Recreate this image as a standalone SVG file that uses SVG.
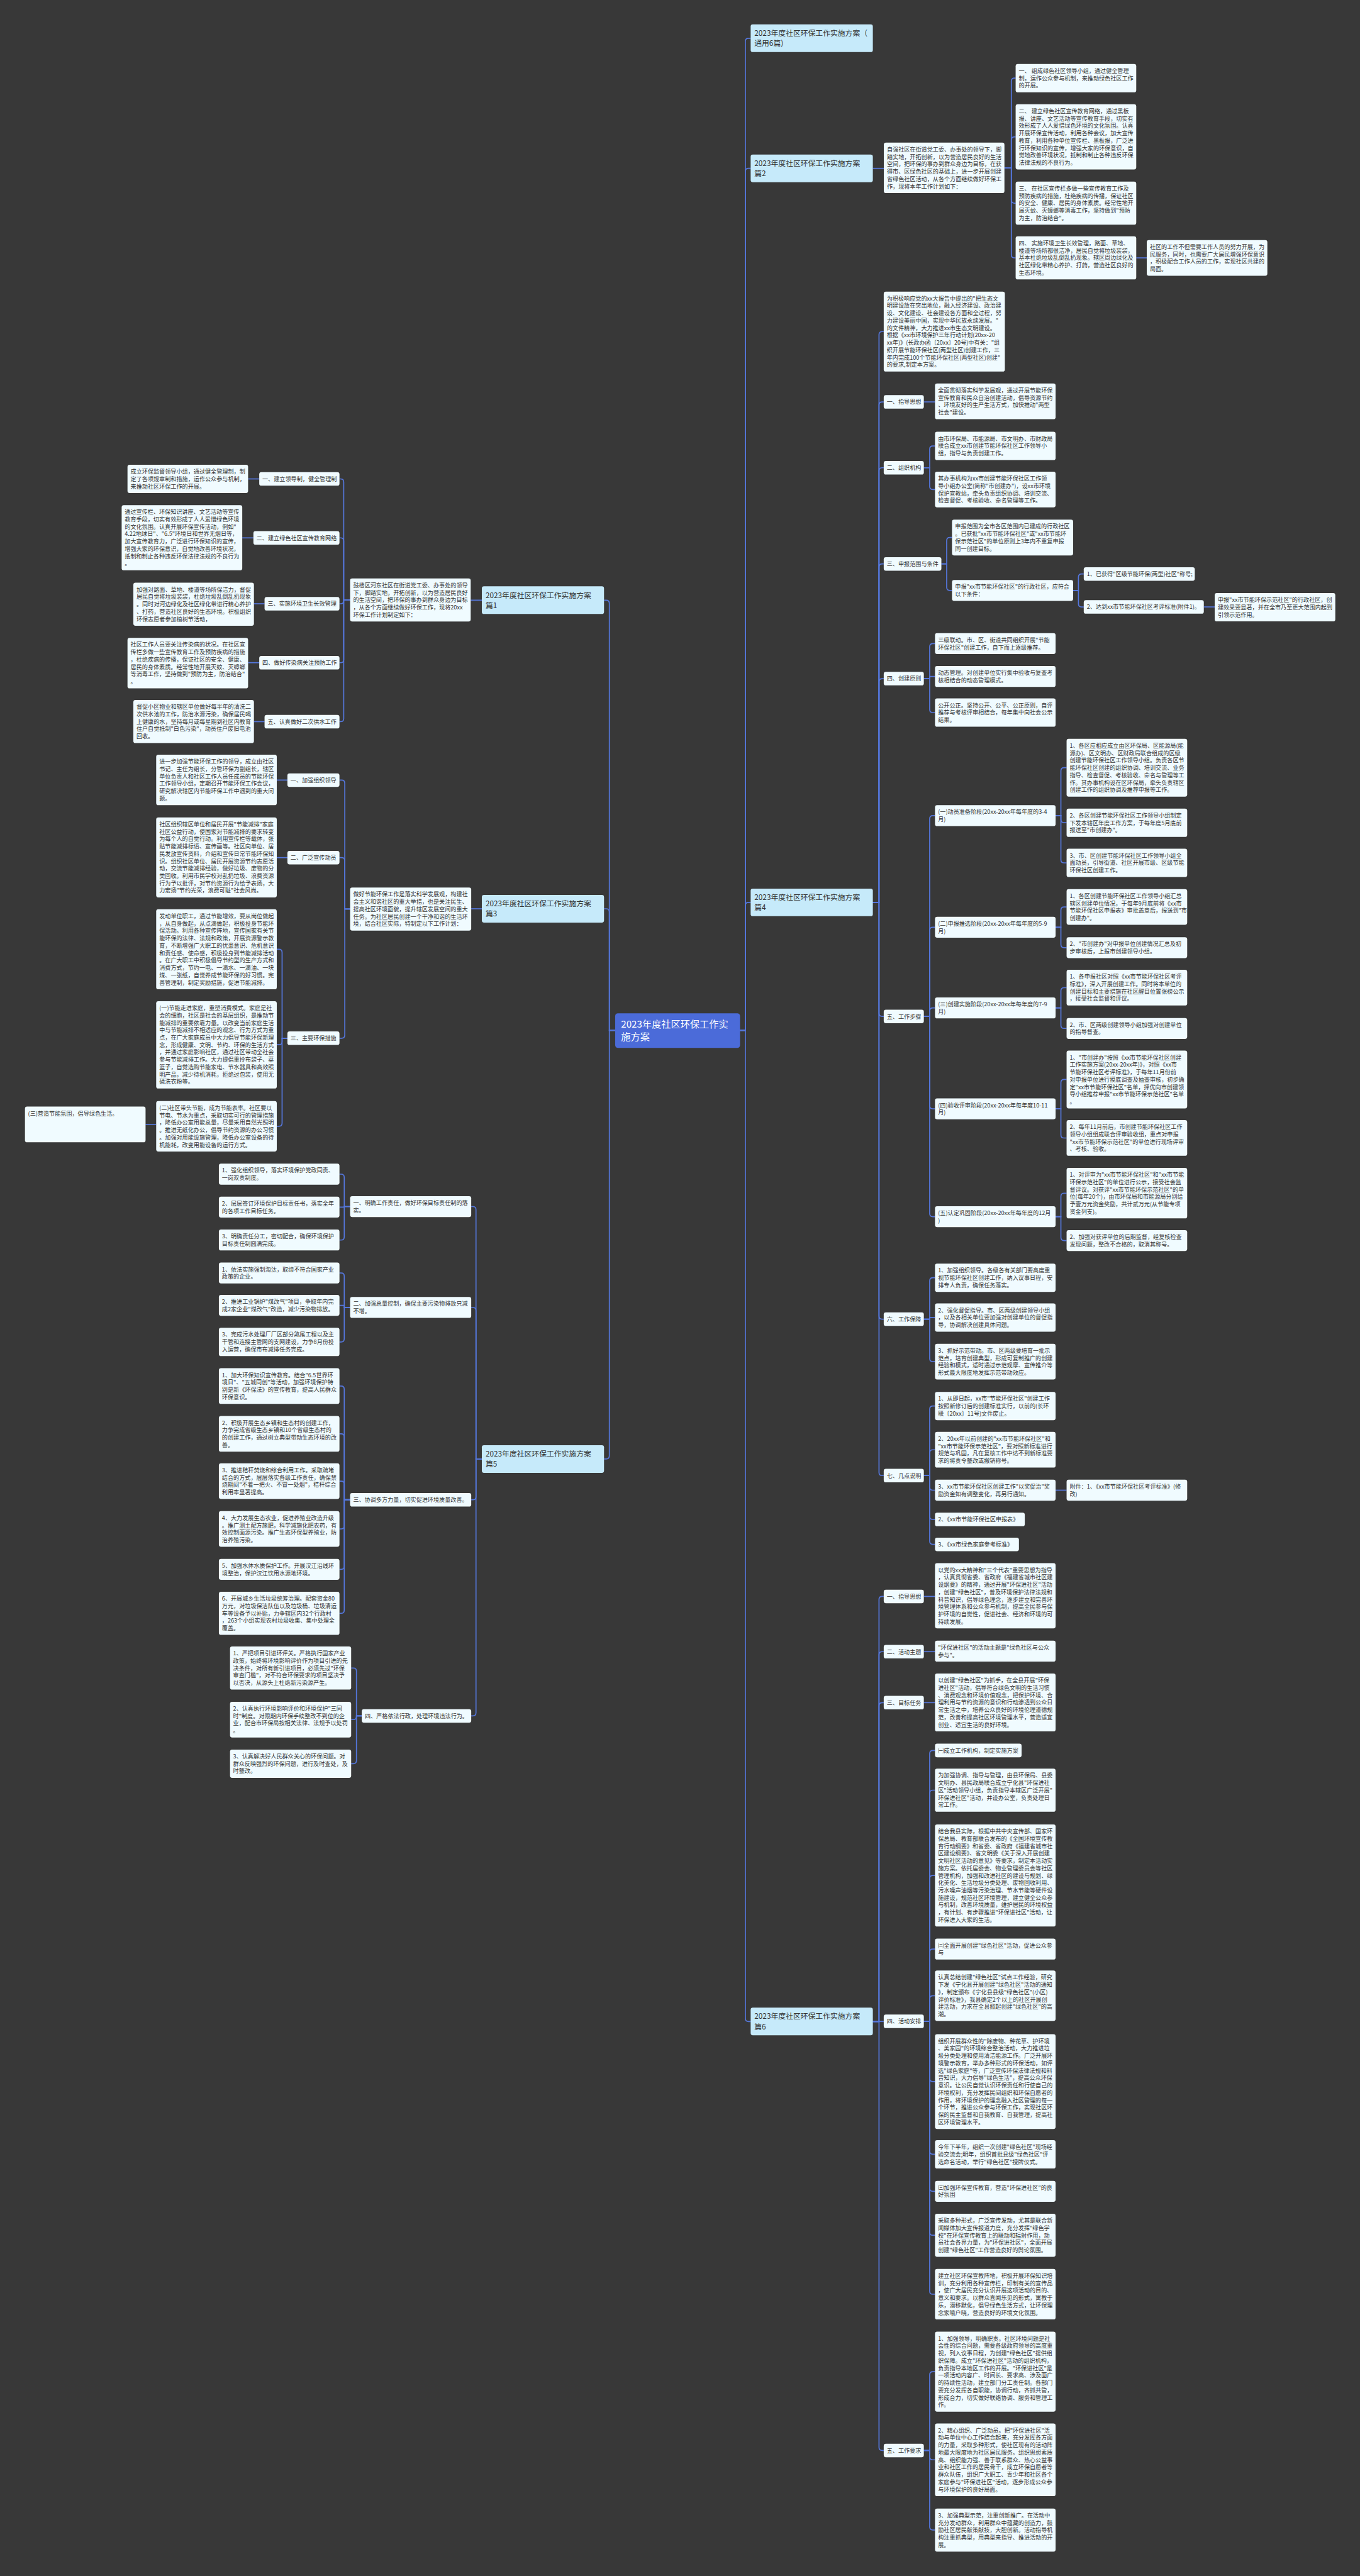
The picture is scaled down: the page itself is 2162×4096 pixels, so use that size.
<svg xmlns="http://www.w3.org/2000/svg" width="2162" height="4096" viewBox="0 0 2162 4096">
<style>
.n{fill:#f0fbff}
.h{fill:#c6eafa}
.k{fill:#4b6bd9}
text{font-family:"Noto Sans CJK SC","Noto Sans",sans-serif;font-size:10.8px;fill:#333}
.t1{font-size:14px;fill:#333}
.tc{font-size:18px;fill:#ffffff}
.e path{fill:none;stroke:#5577dd;stroke-width:2}
</style>
<rect x="0" y="0" width="2162" height="4096" fill="#383838"/>
<g transform="scale(0.844531)">
<g class="e" id="connectors">
<path d="M1393 1940H1403V78Q1403 72 1409 72H1413"/>
<path d="M1393 1940H1403V323Q1403 317 1409 317H1413"/>
<path d="M1393 1940H1403V1705Q1403 1699 1409 1699H1413"/>
<path d="M1393 1940H1403V3800Q1403 3806 1409 3806H1413"/>
<path d="M1158 1940H1147V1136Q1147 1130 1141 1130H1137"/>
<path d="M1158 1940H1147V1717Q1147 1711 1141 1711H1137"/>
<path d="M1158 1940H1147V2741Q1147 2747 1141 2747H1137"/>
<path d="M1643 317H1663.7"/>
<path d="M1890.7 316H1903.7V153Q1903.7 147 1909.7 147H1911.8"/>
<path d="M1890.7 316H1903.7V263.7Q1903.7 257.7 1909.7 257.7H1911.8"/>
<path d="M1890.7 316H1903.7V376.5Q1903.7 382.5 1909.7 382.5H1911.8"/>
<path d="M1890.7 316H1903.7V479.5Q1903.7 485.5 1909.7 485.5H1911.8"/>
<path d="M2138.8 485.5H2158.6"/>
<path d="M1643 1699H1654.6V630.3Q1654.6 624.3 1660.6 624.3H1663.5"/>
<path d="M1643 1699H1654.6V762.7Q1654.6 756.7 1660.6 756.7H1663.5"/>
<path d="M1643 1699H1654.6V886.7Q1654.6 880.7 1660.6 880.7H1663.5"/>
<path d="M1643 1699H1654.6V1067.7Q1654.6 1061.7 1660.6 1061.7H1663.5"/>
<path d="M1643 1699H1654.6V1283.7Q1654.6 1277.7 1660.6 1277.7H1663.5"/>
<path d="M1643 1699H1654.6V1907.7Q1654.6 1913.7 1660.6 1913.7H1663.5"/>
<path d="M1643 1699H1654.6V2477.7Q1654.6 2483.7 1660.6 2483.7H1663.5"/>
<path d="M1643 1699H1654.6V2772.2Q1654.6 2778.2 1660.6 2778.2H1663.5"/>
<path d="M1739 756.7H1760"/>
<path d="M1739 880.7H1750V845.6Q1750 839.6 1756 839.6H1760"/>
<path d="M1739 880.7H1750V915.6Q1750 921.6 1756 921.6H1760"/>
<path d="M1772 1061.7H1782V1018Q1782 1012 1788 1012H1792"/>
<path d="M1772 1061.7H1782V1105.7Q1782 1111.7 1788 1111.7H1792"/>
<path d="M2020 1111.7H2030V1086.7Q2030 1080.7 2036 1080.7H2040"/>
<path d="M2020 1111.7H2030V1136.7Q2030 1142.7 2036 1142.7H2040"/>
<path d="M2266 1142.7H2286.5"/>
<path d="M1739 1277.7H1750V1217.7Q1750 1211.7 1756 1211.7H1760"/>
<path d="M1739 1277.7H1750V1273.7H1760"/>
<path d="M1739 1277.7H1750V1335.6Q1750 1341.6 1756 1341.6H1760"/>
<path d="M1739 1913.7H1750V1541.7Q1750 1535.7 1756 1535.7H1760"/>
<path d="M1739 1913.7H1750V1751.7Q1750 1745.7 1756 1745.7H1760"/>
<path d="M1739 1913.7H1750V1903.7Q1750 1897.7 1756 1897.7H1760"/>
<path d="M1739 1913.7H1750V2081.7Q1750 2087.7 1756 2087.7H1760"/>
<path d="M1739 1913.7H1750V2284.7Q1750 2290.7 1756 2290.7H1760"/>
<path d="M1987 1535.7H1997V1451.4Q1997 1445.4 2003 1445.4H2007.7"/>
<path d="M1987 1535.7H1997V1543Q1997 1549 2003 1549H2007.7"/>
<path d="M1987 1535.7H1997V1618.6Q1997 1624.6 2003 1624.6H2007.7"/>
<path d="M1987 1745.7H1997V1713.6Q1997 1707.6 2003 1707.6H2007.7"/>
<path d="M1987 1745.7H1997V1778.2Q1997 1784.2 2003 1784.2H2007.7"/>
<path d="M1987 1897.7H1997V1865.6Q1997 1859.6 2003 1859.6H2007.7"/>
<path d="M1987 1897.7H1997V1930.3Q1997 1936.3 2003 1936.3H2007.7"/>
<path d="M1987 2087.7H1997V2038.4Q1997 2032.4 2003 2032.4H2007.7"/>
<path d="M1987 2087.7H1997V2136.6Q1997 2142.6 2003 2142.6H2007.7"/>
<path d="M1987 2290.7H1997V2252.5Q1997 2246.5 2003 2246.5H2007.7"/>
<path d="M1987 2290.7H1997V2329.7Q1997 2335.7 2003 2335.7H2007.7"/>
<path d="M1739 2483.7H1750V2411.6Q1750 2405.6 1756 2405.6H1760"/>
<path d="M1739 2483.7H1750V2480.6H1760"/>
<path d="M1739 2483.7H1750V2557.6Q1750 2563.6 1756 2563.6H1760"/>
<path d="M1739 2778.2H1750V2653.2Q1750 2647.2 1756 2647.2H1760"/>
<path d="M1739 2778.2H1750V2735.6Q1750 2729.6 1756 2729.6H1760"/>
<path d="M1739 2778.2H1750V2799.7Q1750 2805.7 1756 2805.7H1760"/>
<path d="M1739 2778.2H1750V2854.7Q1750 2860.7 1756 2860.7H1760"/>
<path d="M1739 2778.2H1750V2901.7Q1750 2907.7 1756 2907.7H1760"/>
<path d="M1987 2805.7H2007.7"/>
<path d="M1643 3806H1654.6V3011.7Q1654.6 3005.7 1660.6 3005.7H1663.5"/>
<path d="M1643 3806H1654.6V3115.7Q1654.6 3109.7 1660.6 3109.7H1663.5"/>
<path d="M1643 3806H1654.6V3211.7Q1654.6 3205.7 1660.6 3205.7H1663.5"/>
<path d="M1643 3806H1663.5"/>
<path d="M1643 3806H1654.6V4607.7Q1654.6 4613.7 1660.6 4613.7H1663.5"/>
<path d="M1739 3005.7H1760"/>
<path d="M1739 3109.7H1760"/>
<path d="M1739 3205.7H1760"/>
<path d="M1739 3805.7H1750V3301.7Q1750 3295.7 1756 3295.7H1760"/>
<path d="M1739 3805.7H1750V3376.5Q1750 3370.5 1756 3370.5H1760"/>
<path d="M1739 3805.7H1750V3537Q1750 3531 1756 3531H1760"/>
<path d="M1739 3805.7H1750V3675.7Q1750 3669.7 1756 3669.7H1760"/>
<path d="M1739 3805.7H1750V3763.5Q1750 3757.5 1756 3757.5H1760"/>
<path d="M1739 3805.7H1750V3913.2Q1750 3919.2 1756 3919.2H1760"/>
<path d="M1739 3805.7H1750V4050Q1750 4056 1756 4056H1760"/>
<path d="M1739 3805.7H1750V4119.7Q1750 4125.7 1756 4125.7H1760"/>
<path d="M1739 3805.7H1750V4202.5Q1750 4208.5 1756 4208.5H1760"/>
<path d="M1739 3805.7H1750V4313.5Q1750 4319.5 1756 4319.5H1760"/>
<path d="M1739 4613.7H1750V4471.3Q1750 4465.3 1756 4465.3H1760"/>
<path d="M1739 4613.7H1750V4625.3Q1750 4631.3 1756 4631.3H1760"/>
<path d="M1739 4613.7H1750V4757.5Q1750 4763.5 1756 4763.5H1760"/>
<path d="M907 1130H886"/>
<path d="M659 1129.5H647V907.7Q647 901.7 641 901.7H639"/>
<path d="M659 1129.5H647V1018.7Q647 1012.7 641 1012.7H639"/>
<path d="M659 1129.5H647V1130.7Q647 1136.7 641 1136.7H639"/>
<path d="M659 1129.5H647V1241.7Q647 1247.7 641 1247.7H639"/>
<path d="M659 1129.5H647V1352.7Q647 1358.7 641 1358.7H639"/>
<path d="M488 901.7H467"/>
<path d="M477 1012.7H456"/>
<path d="M498 1136.7H478"/>
<path d="M488 1247.7H467"/>
<path d="M498 1358.7H478"/>
<path d="M907 1711H887"/>
<path d="M659 1711.5H649V1474.7Q649 1468.7 643 1468.7H639"/>
<path d="M659 1711.5H649V1620.7Q649 1614.7 643 1614.7H639"/>
<path d="M659 1711.5H649V1948.7Q649 1954.7 643 1954.7H639"/>
<path d="M541 1468.7H521"/>
<path d="M541 1614.7H521"/>
<path d="M541 1954.7H531V1793.3Q531 1787.3 525 1787.3H521"/>
<path d="M541 1954.7H531V1961Q531 1967 525 1967H521"/>
<path d="M541 1954.7H531V2114.5Q531 2120.5 525 2120.5H521"/>
<path d="M294 2117H274"/>
<path d="M907 2747H896V2277.7Q896 2271.7 890 2271.7H887"/>
<path d="M907 2747H896V2467.7Q896 2461.7 890 2461.7H887"/>
<path d="M907 2747H896V2817.7Q896 2823.7 890 2823.7H887"/>
<path d="M907 2747H896V3224.7Q896 3230.7 890 3230.7H887"/>
<path d="M659 2271.7H648V2216.7Q648 2210.7 642 2210.7H639"/>
<path d="M659 2271.7H648V2272.7H639"/>
<path d="M659 2271.7H648V2328.7Q648 2334.7 642 2334.7H639"/>
<path d="M659 2461.7H648V2402.7Q648 2396.7 642 2396.7H639"/>
<path d="M659 2461.7H648V2457.7H639"/>
<path d="M659 2461.7H648V2520.6Q648 2526.6 642 2526.6H639"/>
<path d="M659 2823.7H648V2615.6Q648 2609.6 642 2609.6H639"/>
<path d="M659 2823.7H648V2705.6Q648 2699.6 642 2699.6H639"/>
<path d="M659 2823.7H648V2794.6Q648 2788.6 642 2788.6H639"/>
<path d="M659 2823.7H648V2872.6Q648 2878.6 642 2878.6H639"/>
<path d="M659 2823.7H648V2948.7Q648 2954.7 642 2954.7H639"/>
<path d="M659 2823.7H648V3031.5Q648 3037.5 642 3037.5H639"/>
<path d="M681 3230.7H671V3146.5Q671 3140.5 665 3140.5H661"/>
<path d="M681 3230.7H671V3231.6Q671 3237.6 665 3237.6H661"/>
<path d="M681 3230.7H671V3314.6Q671 3320.6 665 3320.6H661"/>
</g>

<g id="center"><rect class="k" x="1158" y="1908" width="235" height="65" rx="5"/><text class="tc" x="1169" y="1935"><tspan>2023年度社区环保工作实</tspan><tspan x="1169" dy="24">施方案</tspan></text></g>

<g id="r1"><rect class="h" x="1413" y="46" width="230" height="52" rx="4"/><text class="t1" x="1420" y="67.5"><tspan>2023年度社区环保工作实施方案（</tspan><tspan x="1420" dy="19">通用6篇)</tspan></text></g>
<g id="r2"><rect class="h" x="1413" y="291" width="230" height="52" rx="4"/><text class="t1" x="1420" y="312.5"><tspan>2023年度社区环保工作实施方案</tspan><tspan x="1420" dy="19">篇2</tspan></text></g>
<g id="r4"><rect class="h" x="1413" y="1673" width="230" height="52" rx="4"/><text class="t1" x="1420" y="1694.5"><tspan>2023年度社区环保工作实施方案</tspan><tspan x="1420" dy="19">篇4</tspan></text></g>
<g id="r6"><rect class="h" x="1413" y="3780" width="230" height="52" rx="4"/><text class="t1" x="1420" y="3801.5"><tspan>2023年度社区环保工作实施方案</tspan><tspan x="1420" dy="19">篇6</tspan></text></g>
<g id="l1"><rect class="h" x="907" y="1104" width="230" height="52" rx="4"/><text class="t1" x="914" y="1125.5"><tspan>2023年度社区环保工作实施方案</tspan><tspan x="914" dy="19">篇1</tspan></text></g>
<g id="l3"><rect class="h" x="907" y="1685" width="230" height="52" rx="4"/><text class="t1" x="914" y="1706.5"><tspan>2023年度社区环保工作实施方案</tspan><tspan x="914" dy="19">篇3</tspan></text></g>
<g id="l5"><rect class="h" x="907" y="2721" width="230" height="52" rx="4"/><text class="t1" x="914" y="2742.5"><tspan>2023年度社区环保工作实施方案</tspan><tspan x="914" dy="19">篇5</tspan></text></g>

<g id="b0"><rect class="n" x="1663.7" y="268.6" width="227" height="95" rx="4"/><text x="1669.5" y="285.3"><tspan>自强社区在街道党工委、办事处的领导下，脚</tspan><tspan x="1669.5" dy="13.9">踏实地，开拓创新，以为营造居民良好的生活</tspan><tspan x="1669.5" dy="13.9">空间，把环保的事办到群众身边为目标，在获</tspan><tspan x="1669.5" dy="13.9">得市、区绿色社区的基础上，进一步开展创建</tspan><tspan x="1669.5" dy="13.9">省绿色社区活动，从各个方面继续做好环保工</tspan><tspan x="1669.5" dy="13.9">作，现将本年工作计划如下：</tspan></text></g>
<g id="b1"><rect class="n" x="1911.8" y="120.5" width="227" height="53.3" rx="4"/><text x="1917.6" y="137.2"><tspan>一、 组成绿色社区领导小组，通过健全管理</tspan><tspan x="1917.6" dy="13.9">制，运作公众参与机制，来推动绿色社区工作</tspan><tspan x="1917.6" dy="13.9">的开展。</tspan></text></g>
<g id="b2"><rect class="n" x="1911.8" y="196.3" width="227" height="122.8" rx="4"/><text x="1917.6" y="213"><tspan>二、 建立绿色社区宣传教育网络，通过黑板</tspan><tspan x="1917.6" dy="13.9">报、讲座、文艺活动等宣传教育手段，切实有</tspan><tspan x="1917.6" dy="13.9">效形成了人人爱惜绿色环境的文化氛围。认真</tspan><tspan x="1917.6" dy="13.9">开展环保宣传活动，利用各种会议，加大宣传</tspan><tspan x="1917.6" dy="13.9">教育，利用各种单位宣传栏、黑板报，广泛进</tspan><tspan x="1917.6" dy="13.9">行环保知识的宣传，增强大家的环保意识，自</tspan><tspan x="1917.6" dy="13.9">觉地改善环境状况，抵制和制止各种违反环保</tspan><tspan x="1917.6" dy="13.9">法律法规的不良行为。</tspan></text></g>
<g id="b3"><rect class="n" x="1911.8" y="342" width="227" height="81.1" rx="4"/><text x="1917.6" y="358.7"><tspan>三、 在社区宣传栏多做一些宣传教育工作及</tspan><tspan x="1917.6" dy="13.9">预防疾病的措施，杜绝疾病的传播，保证社区</tspan><tspan x="1917.6" dy="13.9">的安全、健康、居民的身体素质。经常性地开</tspan><tspan x="1917.6" dy="13.9">展灭蚊、灭蟑螂等消毒工作，坚持做到"预防</tspan><tspan x="1917.6" dy="13.9">为主，防治结合"。</tspan></text></g>
<g id="b4"><rect class="n" x="1911.8" y="445" width="227" height="81.1" rx="4"/><text x="1917.6" y="461.7"><tspan>四、 实施环境卫生长效管理，路面、草地、</tspan><tspan x="1917.6" dy="13.9">楼道等场所都很洁净，居民自觉将垃圾装袋，</tspan><tspan x="1917.6" dy="13.9">基本杜绝垃圾乱倒乱扔现象。辖区周边绿化及</tspan><tspan x="1917.6" dy="13.9">社区绿化带精心养护、打药，营造社区良好的</tspan><tspan x="1917.6" dy="13.9">生态环境。</tspan></text></g>
<g id="b4a"><rect class="n" x="2158.6" y="452" width="227" height="67.2" rx="4"/><text x="2164.4" y="468.7"><tspan>社区的工作不但需要工作人员的努力开展，为</tspan><tspan x="2164.4" dy="13.9">民服务，同时，也需要广大居民增强环保意识</tspan><tspan x="2164.4" dy="13.9">，积极配合工作人员的工作，实现社区共建的</tspan><tspan x="2164.4" dy="13.9">局面。</tspan></text></g>

<g id="d0"><rect class="n" x="1663.5" y="549" width="228" height="150.6" rx="4"/><text x="1669.3" y="565.7"><tspan>为积极响应党的xx大报告中提出的"把生态文</tspan><tspan x="1669.3" dy="13.9">明建设放在突出地位，融入经济建设、政治建</tspan><tspan x="1669.3" dy="13.9">设、文化建设、社会建设各方面和全过程，努</tspan><tspan x="1669.3" dy="13.9">力建设美丽中国，实现中华民族永续发展。"</tspan><tspan x="1669.3" dy="13.9">的文件精神，大力推进xx市生态文明建设。</tspan><tspan x="1669.3" dy="13.9">根据《xx市环境保护三年行动计划(20xx-20</tspan><tspan x="1669.3" dy="13.9">xx年)》(长政办函〔20xx〕20号)中有关："组</tspan><tspan x="1669.3" dy="13.9">织开展节能环保社区(两型社区)创建工作，三</tspan><tspan x="1669.3" dy="13.9">年内完成100个节能环保社区(两型社区)创建"</tspan><tspan x="1669.3" dy="13.9">的要求,制定本方案。</tspan></text></g>
<g id="d1"><rect class="n" x="1663.5" y="744" width="75.5" height="25.5" rx="4"/><text x="1669.3" y="760.7">一、指导思想</text></g>
<g id="d1a"><rect class="n" x="1760" y="722" width="227" height="67.2" rx="4"/><text x="1765.8" y="738.7"><tspan>全面贯彻落实科学发展观，通过开展节能环保</tspan><tspan x="1765.8" dy="13.9">宣传教育和民众自治创建活动，倡导资源节约</tspan><tspan x="1765.8" dy="13.9">、环境友好的生产生活方式，加快推动"两型</tspan><tspan x="1765.8" dy="13.9">社会"建设。</tspan></text></g>
<g id="d2"><rect class="n" x="1663.5" y="868" width="75.5" height="25.5" rx="4"/><text x="1669.3" y="884.7">二、组织机构</text></g>
<g id="d2a"><rect class="n" x="1760" y="813" width="227" height="53.3" rx="4"/><text x="1765.8" y="829.7"><tspan>由市环保局、市能源局、市文明办、市财政局</tspan><tspan x="1765.8" dy="13.9">联合成立xx市创建节能环保社区工作领导小</tspan><tspan x="1765.8" dy="13.9">组，指导与负责创建工作。</tspan></text></g>
<g id="d2b"><rect class="n" x="1760" y="888" width="227" height="67.2" rx="4"/><text x="1765.8" y="904.7"><tspan>其办事机构为xx市创建节能环保社区工作领</tspan><tspan x="1765.8" dy="13.9">导小组办公室(简称"市创建办")，设xx市环境</tspan><tspan x="1765.8" dy="13.9">保护宣教站，牵头负责组织协调、培训交流、</tspan><tspan x="1765.8" dy="13.9">检查督促、考核验收、命名管理等工作。</tspan></text></g>
<g id="d3"><rect class="n" x="1663.5" y="1049" width="108.5" height="25.5" rx="4"/><text x="1669.3" y="1065.7">三、申报范围与条件</text></g>
<g id="d3a"><rect class="n" x="1792" y="978.5" width="228" height="67.2" rx="4"/><text x="1797.8" y="995.2"><tspan>申报范围为全市各区范围内已建成的行政社区</tspan><tspan x="1797.8" dy="13.9">。已获批"xx市节能环保社区"或"xx市节能环</tspan><tspan x="1797.8" dy="13.9">保示范社区"的单位原则上3年内不重复申报</tspan><tspan x="1797.8" dy="13.9">同一创建目标。</tspan></text></g>
<g id="d3b"><rect class="n" x="1792" y="1092" width="228" height="39.4" rx="4"/><text x="1797.8" y="1108.7"><tspan>申报"xx市节能环保社区"的行政社区，应符合</tspan><tspan x="1797.8" dy="13.9">以下条件：</tspan></text></g>
<g id="d3b1"><rect class="n" x="2040" y="1068" width="209" height="25.5" rx="4"/><text x="2045.8" y="1084.7">1、已获得"区级节能环保(两型)社区"称号;</text></g>
<g id="d3b2"><rect class="n" x="2040" y="1130" width="226" height="25.5" rx="4"/><text x="2045.8" y="1146.7">2、达到xx市节能环保社区考评标准(附件1)。</text></g>
<g id="d3b2a"><rect class="n" x="2286.5" y="1116.6" width="227" height="53.3" rx="4"/><text x="2292.3" y="1133.3"><tspan>申报"xx市节能环保示范社区"的行政社区，创</tspan><tspan x="2292.3" dy="13.9">建效果要显著，并在全市乃至更大范围内起到</tspan><tspan x="2292.3" dy="13.9">引领示范作用。</tspan></text></g>
<g id="d4"><rect class="n" x="1663.5" y="1265" width="75.5" height="25.5" rx="4"/><text x="1669.3" y="1281.7">四、创建原则</text></g>
<g id="d4a"><rect class="n" x="1760" y="1192" width="227" height="39.4" rx="4"/><text x="1765.8" y="1208.7"><tspan>三级联动。市、区、街道共同组织开展"节能</tspan><tspan x="1765.8" dy="13.9">环保社区"创建工作，自下而上逐级推荐。</tspan></text></g>
<g id="d4b"><rect class="n" x="1760" y="1254" width="227" height="39.4" rx="4"/><text x="1765.8" y="1270.7"><tspan>动态管理。对创建单位实行集中验收与复查考</tspan><tspan x="1765.8" dy="13.9">核相结合的动态管理模式。</tspan></text></g>
<g id="d4c"><rect class="n" x="1760" y="1315" width="227" height="53.3" rx="4"/><text x="1765.8" y="1331.7"><tspan>公开公正。坚持公开、公平、公正原则，自评</tspan><tspan x="1765.8" dy="13.9">推荐与考核评审相结合，每年集中向社会公示</tspan><tspan x="1765.8" dy="13.9">结果。</tspan></text></g>
<g id="d5"><rect class="n" x="1663.5" y="1901" width="75.5" height="25.5" rx="4"/><text x="1669.3" y="1917.7">五、工作步骤</text></g>
<g id="d51"><rect class="n" x="1760" y="1516" width="227" height="39.4" rx="4"/><text x="1765.8" y="1532.7"><tspan>(一)动员准备阶段(20xx-20xx年每年度的3-4</tspan><tspan x="1765.8" dy="13.9">月)</tspan></text></g>
<g id="d51a"><rect class="n" x="2007.7" y="1391" width="227" height="108.9" rx="4"/><text x="2013.5" y="1407.7"><tspan>1、各区应相应成立由区环保局、区能源局(能</tspan><tspan x="2013.5" dy="13.9">源办)、区文明办、区财政局联合组成的区级</tspan><tspan x="2013.5" dy="13.9">创建节能环保社区工作领导小组。负责各区节</tspan><tspan x="2013.5" dy="13.9">能环保社区创建的组织协调、培训交流、业务</tspan><tspan x="2013.5" dy="13.9">指导、检查督促、考核验收、命名与管理等工</tspan><tspan x="2013.5" dy="13.9">作。其办事机构设在区环保局，牵头负责辖区</tspan><tspan x="2013.5" dy="13.9">创建工作的组织协调及推荐申报等工作。</tspan></text></g>
<g id="d51b"><rect class="n" x="2007.7" y="1522.5" width="227" height="53.3" rx="4"/><text x="2013.5" y="1539.2"><tspan>2、各区创建节能环保社区工作领导小组制定</tspan><tspan x="2013.5" dy="13.9">下发本辖区年度工作方案，于每年度5月底前</tspan><tspan x="2013.5" dy="13.9">报送至"市创建办"。</tspan></text></g>
<g id="d51c"><rect class="n" x="2007.7" y="1598" width="227" height="53.3" rx="4"/><text x="2013.5" y="1614.7"><tspan>3、市、区创建节能环保社区工作领导小组全</tspan><tspan x="2013.5" dy="13.9">面动员，引导街道、社区开展市级、区级节能</tspan><tspan x="2013.5" dy="13.9">环保社区创建工作。</tspan></text></g>
<g id="d52"><rect class="n" x="1760" y="1726" width="227" height="39.4" rx="4"/><text x="1765.8" y="1742.7"><tspan>(二)申报推选阶段(20xx-20xx年每年度的5-9</tspan><tspan x="1765.8" dy="13.9">月)</tspan></text></g>
<g id="d52a"><rect class="n" x="2007.7" y="1674" width="227" height="67.2" rx="4"/><text x="2013.5" y="1690.7"><tspan>1、各区创建节能环保社区工作领导小组汇总</tspan><tspan x="2013.5" dy="13.9">辖区创建单位情况，于每年9月底前将《xx市</tspan><tspan x="2013.5" dy="13.9">节能环保社区申报表》审批盖章后，报送到"市</tspan><tspan x="2013.5" dy="13.9">创建办"。</tspan></text></g>
<g id="d52b"><rect class="n" x="2007.7" y="1764.5" width="227" height="39.4" rx="4"/><text x="2013.5" y="1781.2"><tspan>2、"市创建办"对申报单位创建情况汇总及初</tspan><tspan x="2013.5" dy="13.9">步审核后，上报市创建领导小组。</tspan></text></g>
<g id="d53"><rect class="n" x="1760" y="1878" width="227" height="39.4" rx="4"/><text x="1765.8" y="1894.7"><tspan>(三)创建实施阶段(20xx-20xx年每年度的7-9</tspan><tspan x="1765.8" dy="13.9">月)</tspan></text></g>
<g id="d53a"><rect class="n" x="2007.7" y="1826" width="227" height="67.2" rx="4"/><text x="2013.5" y="1842.7"><tspan>1、各申报社区对照《xx市节能环保社区考评</tspan><tspan x="2013.5" dy="13.9">标准》，深入开展创建工作。同时将本单位的</tspan><tspan x="2013.5" dy="13.9">创建目标和主要措施在社区醒目位置张榜公示</tspan><tspan x="2013.5" dy="13.9">，接受社会监督和评议。</tspan></text></g>
<g id="d53b"><rect class="n" x="2007.7" y="1916.6" width="227" height="39.4" rx="4"/><text x="2013.5" y="1933.3"><tspan>2、市、区两级创建领导小组加强对创建单位</tspan><tspan x="2013.5" dy="13.9">的指导督查。</tspan></text></g>
<g id="d54"><rect class="n" x="1760" y="2068" width="227" height="39.4" rx="4"/><text x="1765.8" y="2084.7"><tspan>(四)验收评审阶段(20xx-20xx年每年度10-11</tspan><tspan x="1765.8" dy="13.9">月)</tspan></text></g>
<g id="d54a"><rect class="n" x="2007.7" y="1978" width="227" height="108.9" rx="4"/><text x="2013.5" y="1994.7"><tspan>1、"市创建办"按照《xx市节能环保社区创建</tspan><tspan x="2013.5" dy="13.9">工作实施方案(20xx-20xx年)》，对照《xx市</tspan><tspan x="2013.5" dy="13.9">节能环保社区考评标准》，于每年11月份前</tspan><tspan x="2013.5" dy="13.9">对申报单位进行摸底调查及抽查审核，初步确</tspan><tspan x="2013.5" dy="13.9">定"xx市节能环保社区"名单，择优向市创建领</tspan><tspan x="2013.5" dy="13.9">导小组推荐申报"xx市节能环保示范社区"名单</tspan><tspan x="2013.5" dy="13.9">。</tspan></text></g>
<g id="d54b"><rect class="n" x="2007.7" y="2109" width="227" height="67.2" rx="4"/><text x="2013.5" y="2125.7"><tspan>2、每年11月前后，市创建节能环保社区工作</tspan><tspan x="2013.5" dy="13.9">领导小组组成联合评审验收组，重点对申报</tspan><tspan x="2013.5" dy="13.9">"xx市节能环保示范社区"的单位进行现场评审</tspan><tspan x="2013.5" dy="13.9">、考核、验收。</tspan></text></g>
<g id="d55"><rect class="n" x="1760" y="2271" width="227" height="39.4" rx="4"/><text x="1765.8" y="2287.7"><tspan>(五)认定巩固阶段(20xx-20xx年每年度的12月</tspan><tspan x="1765.8" dy="13.9">)</tspan></text></g>
<g id="d55a"><rect class="n" x="2007.7" y="2199" width="227" height="95" rx="4"/><text x="2013.5" y="2215.7"><tspan>1、对评审为"xx市节能环保社区"和"xx市节能</tspan><tspan x="2013.5" dy="13.9">环保示范社区"的单位进行公示，接受社会监</tspan><tspan x="2013.5" dy="13.9">督评议。对获评"xx市节能环保示范社区"的单</tspan><tspan x="2013.5" dy="13.9">位(每年20个)，由市环保局和市能源局分别给</tspan><tspan x="2013.5" dy="13.9">予壹万元资金奖励，共计贰万元(从节能专项</tspan><tspan x="2013.5" dy="13.9">资金列支)。</tspan></text></g>
<g id="d55b"><rect class="n" x="2007.7" y="2316" width="227" height="39.4" rx="4"/><text x="2013.5" y="2332.7"><tspan>2、加强对获评单位的后期监督，经复核检查</tspan><tspan x="2013.5" dy="13.9">发现问题，整改不合格的，取消其称号。</tspan></text></g>
<g id="d6"><rect class="n" x="1663.5" y="2471" width="75.5" height="25.5" rx="4"/><text x="1669.3" y="2487.7">六、工作保障</text></g>
<g id="d6a"><rect class="n" x="1760" y="2379" width="227" height="53.3" rx="4"/><text x="1765.8" y="2395.7"><tspan>1、加强组织领导。各级各有关部门要高度重</tspan><tspan x="1765.8" dy="13.9">视节能环保社区创建工作，纳入议事日程，安</tspan><tspan x="1765.8" dy="13.9">排专人负责，确保任务落实。</tspan></text></g>
<g id="d6b"><rect class="n" x="1760" y="2454" width="227" height="53.3" rx="4"/><text x="1765.8" y="2470.7"><tspan>2、强化督促指导。市、区两级创建领导小组</tspan><tspan x="1765.8" dy="13.9">，以及各相关单位要加强对创建单位的督促指</tspan><tspan x="1765.8" dy="13.9">导，协调解决创建具体问题。</tspan></text></g>
<g id="d6c"><rect class="n" x="1760" y="2530" width="227" height="67.2" rx="4"/><text x="1765.8" y="2546.7"><tspan>3、抓好示范带动。市、区两级要培育一批示</tspan><tspan x="1765.8" dy="13.9">范点，培育创建典型，形成可复制推广的创建</tspan><tspan x="1765.8" dy="13.9">经验和模式，适时通过示范观摩、宣传推介等</tspan><tspan x="1765.8" dy="13.9">形式最大限度地发挥示范带动效应。</tspan></text></g>
<g id="d7"><rect class="n" x="1663.5" y="2765.5" width="75.5" height="25.5" rx="4"/><text x="1669.3" y="2782.2">七、几点说明</text></g>
<g id="d7a"><rect class="n" x="1760" y="2620.6" width="227" height="53.3" rx="4"/><text x="1765.8" y="2637.3"><tspan>1、从即日起，xx市"节能环保社区"创建工作</tspan><tspan x="1765.8" dy="13.9">按照新修订后的创建标准实行，以前的(长环</tspan><tspan x="1765.8" dy="13.9">联〔20xx〕11号)文件废止。</tspan></text></g>
<g id="d7b"><rect class="n" x="1760" y="2696" width="227" height="67.2" rx="4"/><text x="1765.8" y="2712.7"><tspan>2、20xx年以前创建的"xx市节能环保社区"和</tspan><tspan x="1765.8" dy="13.9">"xx市节能环保示范社区"，要对照新标准进行</tspan><tspan x="1765.8" dy="13.9">规范与巩固，凡在复核工作中达不到新标准要</tspan><tspan x="1765.8" dy="13.9">求的将责令整改或撤销称号。</tspan></text></g>
<g id="d7c"><rect class="n" x="1760" y="2786" width="227" height="39.4" rx="4"/><text x="1765.8" y="2802.7"><tspan>3、xx市节能环保社区创建工作"以奖促治"奖</tspan><tspan x="1765.8" dy="13.9">励资金如有调整变化，再另行通知。</tspan></text></g>
<g id="d7c1"><rect class="n" x="2007.7" y="2786" width="227" height="39.4" rx="4"/><text x="2013.5" y="2802.7"><tspan>附件：1、《xx市节能环保社区考评标准》(修</tspan><tspan x="2013.5" dy="13.9">改)</tspan></text></g>
<g id="d7d"><rect class="n" x="1760" y="2848" width="169" height="25.5" rx="4"/><text x="1765.8" y="2864.7">2、《xx市节能环保社区申报表》</text></g>
<g id="d7e"><rect class="n" x="1760" y="2895" width="158" height="25.5" rx="4"/><text x="1765.8" y="2911.7">3、《xx市绿色家庭参考标准》</text></g>

<g id="f1"><rect class="n" x="1663.5" y="2993" width="75.5" height="25.5" rx="4"/><text x="1669.3" y="3009.7">一、指导思想</text></g>
<g id="f1a"><rect class="n" x="1760" y="2943" width="227" height="122.8" rx="4"/><text x="1765.8" y="2959.7"><tspan>以党的xx大精神和"三个代表"重要思想为指导</tspan><tspan x="1765.8" dy="13.9">，认真贯彻省委、省政府《福建省城市社区建</tspan><tspan x="1765.8" dy="13.9">设纲要》的精神，通过开展"环保进社区"活动</tspan><tspan x="1765.8" dy="13.9">，创建"绿色社区"，普及环境保护法律法规和</tspan><tspan x="1765.8" dy="13.9">科普知识，倡导绿色理念，逐步建立和完善环</tspan><tspan x="1765.8" dy="13.9">境管理体系和公众参与机制，提高全民参与保</tspan><tspan x="1765.8" dy="13.9">护环境的自觉性，促进社会、经济和环境的可</tspan><tspan x="1765.8" dy="13.9">持续发展。</tspan></text></g>
<g id="f2"><rect class="n" x="1663.5" y="3097" width="75.5" height="25.5" rx="4"/><text x="1669.3" y="3113.7">二、活动主题</text></g>
<g id="f2a"><rect class="n" x="1760" y="3089" width="227" height="39.4" rx="4"/><text x="1765.8" y="3105.7"><tspan>"环保进社区"的活动主题是"绿色社区与公众</tspan><tspan x="1765.8" dy="13.9">参与"。</tspan></text></g>
<g id="f3"><rect class="n" x="1663.5" y="3193" width="75.5" height="25.5" rx="4"/><text x="1669.3" y="3209.7">三、目标任务</text></g>
<g id="f3a"><rect class="n" x="1760" y="3151" width="227" height="108.9" rx="4"/><text x="1765.8" y="3167.7"><tspan>以创建"绿色社区"为抓手，在全县开展"环保</tspan><tspan x="1765.8" dy="13.9">进社区"活动，倡导符合绿色文明的生活习惯</tspan><tspan x="1765.8" dy="13.9">、消费观念和环境价值观念，把保护环境、合</tspan><tspan x="1765.8" dy="13.9">理利用与节约资源的意识和行动渗透到公众日</tspan><tspan x="1765.8" dy="13.9">常生活之中，培养公众良好的环境伦理道德规</tspan><tspan x="1765.8" dy="13.9">范，改善和提高社区环境管理水平，营造适宜</tspan><tspan x="1765.8" dy="13.9">创业、适宜生活的良好环境。</tspan></text></g>
<g id="f4"><rect class="n" x="1663.5" y="3793" width="75.5" height="25.5" rx="4"/><text x="1669.3" y="3809.7">四、活动安排</text></g>
<g id="f4a"><rect class="n" x="1760" y="3283" width="163" height="25.5" rx="4"/><text x="1765.8" y="3299.7">㈠成立工作机构，制定实施方案</text></g>
<g id="f4b"><rect class="n" x="1760" y="3330" width="227" height="81.1" rx="4"/><text x="1765.8" y="3346.7"><tspan>为加强协调、指导与管理，由县环保局、县委</tspan><tspan x="1765.8" dy="13.9">文明办、县民政局联合成立宁化县"环保进社</tspan><tspan x="1765.8" dy="13.9">区"活动领导小组，负责指导本辖区广泛开展"</tspan><tspan x="1765.8" dy="13.9">环保进社区"活动，并设办公室，负责处理日</tspan><tspan x="1765.8" dy="13.9">常工作。</tspan></text></g>
<g id="f4c"><rect class="n" x="1760" y="3435" width="227" height="192.3" rx="4"/><text x="1765.8" y="3451.7"><tspan>结合我县实际，根据中共中央宣传部、国家环</tspan><tspan x="1765.8" dy="13.9">保总局、教育部联合发布的《全国环境宣传教</tspan><tspan x="1765.8" dy="13.9">育行动纲要》和省委、省政府《福建省城市社</tspan><tspan x="1765.8" dy="13.9">区建设纲要》、省文明委《关于深入开展创建</tspan><tspan x="1765.8" dy="13.9">文明社区活动的意见》等要求，制定本活动实</tspan><tspan x="1765.8" dy="13.9">施方案。依托居委会、物业管理委员会等社区</tspan><tspan x="1765.8" dy="13.9">管理机构，加强和改进社区的建设与规划、绿</tspan><tspan x="1765.8" dy="13.9">化美化、生活垃圾分类处理、废物回收利用、</tspan><tspan x="1765.8" dy="13.9">污水噪声油烟等污染治理、节水节能等硬件设</tspan><tspan x="1765.8" dy="13.9">施建设，规范社区环境管理，建立健全公众参</tspan><tspan x="1765.8" dy="13.9">与机制，改善环境质量，维护居民的环境权益</tspan><tspan x="1765.8" dy="13.9">，有计划、有步骤推进"环保进社区"活动，让</tspan><tspan x="1765.8" dy="13.9">环保进入大家的生活。</tspan></text></g>
<g id="f4d"><rect class="n" x="1760" y="3650" width="227" height="39.4" rx="4"/><text x="1765.8" y="3666.7"><tspan>㈡全面开展创建"绿色社区"活动，促进公众参</tspan><tspan x="1765.8" dy="13.9">与</tspan></text></g>
<g id="f4e"><rect class="n" x="1760" y="3710" width="227" height="95" rx="4"/><text x="1765.8" y="3726.7"><tspan>认真总结创建"绿色社区"试点工作经验，研究</tspan><tspan x="1765.8" dy="13.9">下发《宁化县开展创建"绿色社区"活动的通知</tspan><tspan x="1765.8" dy="13.9">》，制定颁布《宁化县县级"绿色社区"(小区)</tspan><tspan x="1765.8" dy="13.9">评价标准》，我县确定2个以上的社区开展创</tspan><tspan x="1765.8" dy="13.9">建活动，力求在全县掀起创建"绿色社区"的高</tspan><tspan x="1765.8" dy="13.9">潮。</tspan></text></g>
<g id="f4f"><rect class="n" x="1760" y="3830" width="227" height="178.4" rx="4"/><text x="1765.8" y="3846.7"><tspan>组织开展群众性的"除废物、种花草、护环境</tspan><tspan x="1765.8" dy="13.9">、美家园"的环境综合整治活动，大力推进垃</tspan><tspan x="1765.8" dy="13.9">圾分类处理和使用清洁能源工作。广泛开展环</tspan><tspan x="1765.8" dy="13.9">境警示教育，举办多种形式的环保活动，如评</tspan><tspan x="1765.8" dy="13.9">选"绿色家庭"等，广泛宣传环保法律法规和科</tspan><tspan x="1765.8" dy="13.9">普知识，大力倡导"绿色生活"，提高公众环保</tspan><tspan x="1765.8" dy="13.9">意识。让公民自觉认识环保责任和行使自己的</tspan><tspan x="1765.8" dy="13.9">环境权利，充分发挥民间组织和环保自愿者的</tspan><tspan x="1765.8" dy="13.9">作用，将环境保护的理念融入社区管理的每一</tspan><tspan x="1765.8" dy="13.9">个环节，推进公众参与环保工作，实现社区环</tspan><tspan x="1765.8" dy="13.9">保的民主监督和自我教育、自我管理，提高社</tspan><tspan x="1765.8" dy="13.9">区环境管理水平。</tspan></text></g>
<g id="f4g"><rect class="n" x="1760" y="4029.5" width="227" height="53.3" rx="4"/><text x="1765.8" y="4046.2"><tspan>今年下半年，组织一次创建"绿色社区"现场经</tspan><tspan x="1765.8" dy="13.9">验交流会;明年，组织首批县级"绿色社区"评</tspan><tspan x="1765.8" dy="13.9">选命名活动，举行"绿色社区"授牌仪式。</tspan></text></g>
<g id="f4h"><rect class="n" x="1760" y="4106" width="227" height="39.4" rx="4"/><text x="1765.8" y="4122.7"><tspan>㈢加强环保宣传教育，营造"环保进社区"的良</tspan><tspan x="1765.8" dy="13.9">好氛围</tspan></text></g>
<g id="f4i"><rect class="n" x="1760" y="4168" width="227" height="81.1" rx="4"/><text x="1765.8" y="4184.7"><tspan>采取多种形式，广泛宣传发动，尤其是联合新</tspan><tspan x="1765.8" dy="13.9">闻媒体加大宣传报道力度，充分发挥"绿色学</tspan><tspan x="1765.8" dy="13.9">校"在环保宣传教育上的联动和辐射作用，动</tspan><tspan x="1765.8" dy="13.9">员社会各界力量，为"环保进社区"，全面开展</tspan><tspan x="1765.8" dy="13.9">创建"绿色社区"工作营造良好的舆论氛围。</tspan></text></g>
<g id="f4j"><rect class="n" x="1760" y="4272" width="227" height="95" rx="4"/><text x="1765.8" y="4288.7"><tspan>建立社区环保宣教阵地，积极开展环保知识培</tspan><tspan x="1765.8" dy="13.9">训，充分利用各种宣传栏，印制有关的宣传品</tspan><tspan x="1765.8" dy="13.9">，使广大居民充分认识开展这项活动的目的、</tspan><tspan x="1765.8" dy="13.9">意义和要求。以群众喜闻乐见的形式，寓教于</tspan><tspan x="1765.8" dy="13.9">乐，潜移默化，倡导绿色生活方式，让环保理</tspan><tspan x="1765.8" dy="13.9">念家喻户晓，营造良好的环境文化氛围。</tspan></text></g>
<g id="f5"><rect class="n" x="1663.5" y="4601" width="75.5" height="25.5" rx="4"/><text x="1669.3" y="4617.7">五、工作要求</text></g>
<g id="f5a"><rect class="n" x="1760" y="4390" width="227" height="150.6" rx="4"/><text x="1765.8" y="4406.7"><tspan>1、加强领导，明确职责。社区环境问题是社</tspan><tspan x="1765.8" dy="13.9">会性的综合问题，需要各级政府领导的高度重</tspan><tspan x="1765.8" dy="13.9">视，列入议事日程，为创建"绿色社区"提供组</tspan><tspan x="1765.8" dy="13.9">织保障。成立"环保进社区"活动的组织机构，</tspan><tspan x="1765.8" dy="13.9">负责指导本地区工作的开展。"环保进社区"是</tspan><tspan x="1765.8" dy="13.9">一项活动内容广、时间长、要求高、涉及面广</tspan><tspan x="1765.8" dy="13.9">的持续性活动，建立部门分工责任制。各部门</tspan><tspan x="1765.8" dy="13.9">要充分发挥各自职能，协调行动，齐抓共管，</tspan><tspan x="1765.8" dy="13.9">形成合力，切实做好联络协调、服务和管理工</tspan><tspan x="1765.8" dy="13.9">作。</tspan></text></g>
<g id="f5b"><rect class="n" x="1760" y="4563" width="227" height="136.7" rx="4"/><text x="1765.8" y="4579.7"><tspan>2、精心组织、广泛动员。把"环保进社区"活</tspan><tspan x="1765.8" dy="13.9">动与单位中心工作结合起来，充分发挥各方面</tspan><tspan x="1765.8" dy="13.9">的力量，采取多种形式，使社区现有的活动阵</tspan><tspan x="1765.8" dy="13.9">地最大限度地为社区居民服务。组织思想素质</tspan><tspan x="1765.8" dy="13.9">高、组织能力强、善于联系群众、热心公益事</tspan><tspan x="1765.8" dy="13.9">业和社区工作的居民骨干，成立环保自愿者等</tspan><tspan x="1765.8" dy="13.9">群众队伍，组织广大职工、青少年和社区各个</tspan><tspan x="1765.8" dy="13.9">家庭参与"环保进社区"活动，逐步形成公众参</tspan><tspan x="1765.8" dy="13.9">与环境保护的良好局面。</tspan></text></g>
<g id="f5c"><rect class="n" x="1760" y="4723" width="227" height="81.1" rx="4"/><text x="1765.8" y="4739.7"><tspan>3、加强典型示范，注重创新推广。在活动中</tspan><tspan x="1765.8" dy="13.9">充分发动群众，利用群众中蕴藏的创造力，鼓</tspan><tspan x="1765.8" dy="13.9">励社区居民献策献技，大胆创新。活动指导机</tspan><tspan x="1765.8" dy="13.9">构注重抓典型，用典型来指导、推进活动的开</tspan><tspan x="1765.8" dy="13.9">展。</tspan></text></g>

<g id="a0"><rect class="n" x="659" y="1089" width="227" height="81.1" rx="4"/><text x="664.8" y="1105.7"><tspan>鼓楼区河东社区在街道党工委、办事处的领导</tspan><tspan x="664.8" dy="13.9">下，脚踏实地，开拓创新，以为营造居民良好</tspan><tspan x="664.8" dy="13.9">的生活空间，把环保的事办到群众身边为目标</tspan><tspan x="664.8" dy="13.9">，从各个方面继续做好环保工作，现将20xx</tspan><tspan x="664.8" dy="13.9">环保工作计划制定如下：</tspan></text></g>
<g id="a1"><rect class="n" x="488" y="889" width="151" height="25.5" rx="4"/><text x="493.8" y="905.7">一、建立领导制，健全管理制</text></g>
<g id="a1a"><rect class="n" x="240" y="875" width="227" height="53.3" rx="4"/><text x="245.8" y="891.7"><tspan>成立环保监督领导小组，通过健全管理制，制</tspan><tspan x="245.8" dy="13.9">定了各项规章制和措施，运作公众参与机制，</tspan><tspan x="245.8" dy="13.9">来推动社区环保工作的开展。</tspan></text></g>
<g id="a2"><rect class="n" x="477" y="1000" width="162" height="25.5" rx="4"/><text x="482.8" y="1016.7">二、建立绿色社区宣传教育网络</text></g>
<g id="a2a"><rect class="n" x="229" y="951" width="227" height="122.8" rx="4"/><text x="234.8" y="967.7"><tspan>通过宣传栏、环保知识讲座、文艺活动等宣传</tspan><tspan x="234.8" dy="13.9">教育手段，切实有效形成了人人爱惜绿色环境</tspan><tspan x="234.8" dy="13.9">的文化氛围。认真开展环保宣传活动，例如"</tspan><tspan x="234.8" dy="13.9">4.22地球日"、"6.5"环境日和世界无烟日等，</tspan><tspan x="234.8" dy="13.9">加大宣传教育力，广泛进行环保知识的宣传，</tspan><tspan x="234.8" dy="13.9">增强大家的环保意识，自觉地改善环境状况，</tspan><tspan x="234.8" dy="13.9">抵制和制止各种违反环保法律法规的不良行为</tspan><tspan x="234.8" dy="13.9">。</tspan></text></g>
<g id="a3"><rect class="n" x="498" y="1124" width="141" height="25.5" rx="4"/><text x="503.8" y="1140.7">三、实施环境卫生长效管理</text></g>
<g id="a3a"><rect class="n" x="251" y="1097" width="227" height="81.1" rx="4"/><text x="256.8" y="1113.7"><tspan>加强对路面、草地、楼道等场所保洁力，督促</tspan><tspan x="256.8" dy="13.9">居民自觉将垃圾装袋，杜绝垃圾乱倒乱扔现象</tspan><tspan x="256.8" dy="13.9">。同时对河边绿化及社区绿化带进行精心养护</tspan><tspan x="256.8" dy="13.9">、打药，营造社区良好的生态环境。积极组织</tspan><tspan x="256.8" dy="13.9">环保志愿者参加植树节活动，</tspan></text></g>
<g id="a4"><rect class="n" x="488" y="1235" width="151" height="25.5" rx="4"/><text x="493.8" y="1251.7">四、做好传染病关注预防工作</text></g>
<g id="a4a"><rect class="n" x="240" y="1201" width="227" height="95" rx="4"/><text x="245.8" y="1217.7"><tspan>社区工作人员要关注传染病的状况。在社区宣</tspan><tspan x="245.8" dy="13.9">传栏多做一些宣传教育工作及预防疾病的措施</tspan><tspan x="245.8" dy="13.9">，杜绝疾病的传播，保证社区的安全、健康、</tspan><tspan x="245.8" dy="13.9">居民的身体素质。经常性地开展灭蚊、灭蟑螂</tspan><tspan x="245.8" dy="13.9">等消毒工作，坚持做到"预防为主，防治结合"</tspan><tspan x="245.8" dy="13.9">。</tspan></text></g>
<g id="a5"><rect class="n" x="498" y="1346" width="141" height="25.5" rx="4"/><text x="503.8" y="1362.7">五、认真做好二次供水工作</text></g>
<g id="a5a"><rect class="n" x="251" y="1318" width="227" height="81.1" rx="4"/><text x="256.8" y="1334.7"><tspan>督促小区物业和辖区单位做好每半年的清洗二</tspan><tspan x="256.8" dy="13.9">次供水池的工作，防治水源污染，确保居民喝</tspan><tspan x="256.8" dy="13.9">上健康的水，坚持每月或每星期到社区内教育</tspan><tspan x="256.8" dy="13.9">住户自觉抵制"白色污染"，动员住户废旧电池</tspan><tspan x="256.8" dy="13.9">回收。</tspan></text></g>

<g id="c0"><rect class="n" x="659" y="1671" width="228" height="81.1" rx="4"/><text x="664.8" y="1687.7"><tspan>做好节能环保工作是落实科学发展观，构建社</tspan><tspan x="664.8" dy="13.9">会主义和谐社区的重大举措，也是关注民生、</tspan><tspan x="664.8" dy="13.9">提高社区环境面貌，提升辖区发展空间的重大</tspan><tspan x="664.8" dy="13.9">任务。为社区居民创建一个干净和谐的生活环</tspan><tspan x="664.8" dy="13.9">境，结合社区实际，特制定以下工作计划：</tspan></text></g>
<g id="c1"><rect class="n" x="541" y="1456" width="98" height="25.5" rx="4"/><text x="546.8" y="1472.7">一、加强组织领导</text></g>
<g id="c1a"><rect class="n" x="294" y="1421" width="227" height="95" rx="4"/><text x="299.8" y="1437.7"><tspan>进一步加强节能环保工作的领导，成立由社区</tspan><tspan x="299.8" dy="13.9">书记、主任为组长，分管环保为副组长，辖区</tspan><tspan x="299.8" dy="13.9">单位负责人和社区工作人员任成员的节能环保</tspan><tspan x="299.8" dy="13.9">工作领导小组，定期召开节能环保工作会议，</tspan><tspan x="299.8" dy="13.9">研究解决辖区内节能环保工作中遇到的重大问</tspan><tspan x="299.8" dy="13.9">题。</tspan></text></g>
<g id="c2"><rect class="n" x="541" y="1602" width="98" height="25.5" rx="4"/><text x="546.8" y="1618.7">二、广泛宣传动员</text></g>
<g id="c2a"><rect class="n" x="294" y="1539" width="227" height="150.6" rx="4"/><text x="299.8" y="1555.7"><tspan>社区组织辖区单位和居民开展"节能减排"家庭</tspan><tspan x="299.8" dy="13.9">社区公益行动，使国家对节能减排的要求转变</tspan><tspan x="299.8" dy="13.9">为每个人的自觉行动。利用宣传栏等载体，张</tspan><tspan x="299.8" dy="13.9">贴节能减排标语、宣传画等。社区向单位、居</tspan><tspan x="299.8" dy="13.9">民发放宣传资料，介绍和宣传日常节能环保知</tspan><tspan x="299.8" dy="13.9">识。组织社区单位、居民开展资源节约志愿活</tspan><tspan x="299.8" dy="13.9">动，交流节能减排经验，做好垃圾、废物的分</tspan><tspan x="299.8" dy="13.9">类回收。利用市民学校对乱扔垃圾、浪费资源</tspan><tspan x="299.8" dy="13.9">行为予以批评，对节约资源行为给予表扬，大</tspan><tspan x="299.8" dy="13.9">力宏扬"节约光荣，浪费可耻"社会风尚。</tspan></text></g>
<g id="c3"><rect class="n" x="541" y="1942" width="98" height="25.5" rx="4"/><text x="546.8" y="1958.7">三、主要环保措施</text></g>
<g id="c3a"><rect class="n" x="294" y="1712" width="227" height="150.6" rx="4"/><text x="299.8" y="1728.7"><tspan>发动单位职工，通过节能增效，要从岗位做起</tspan><tspan x="299.8" dy="13.9">，从自身做起，从点滴做起，积极投身节能环</tspan><tspan x="299.8" dy="13.9">保活动。利用各种宣传阵地，宣传国家有关节</tspan><tspan x="299.8" dy="13.9">能环保的法律、法规和政策，开展资源警示教</tspan><tspan x="299.8" dy="13.9">育，不断增强广大职工的忧患意识、危机意识</tspan><tspan x="299.8" dy="13.9">和责任感、使命感，积极投身到节能减排活动</tspan><tspan x="299.8" dy="13.9">。在广大职工中积极倡导节约型的生产方式和</tspan><tspan x="299.8" dy="13.9">消费方式，节约一电、一滴水、一滴油、一块</tspan><tspan x="299.8" dy="13.9">煤、一张纸，自觉养成节能环保的好习惯。完</tspan><tspan x="299.8" dy="13.9">善管理制，制定奖励措施，促进节能减排。</tspan></text></g>
<g id="c3b"><rect class="n" x="294" y="1885" width="227" height="164.5" rx="4"/><text x="299.8" y="1901.7"><tspan>(一)节能走进家庭，重塑消费模式。家庭是社</tspan><tspan x="299.8" dy="13.9">会的细胞，社区是社会的基层组织，是推动节</tspan><tspan x="299.8" dy="13.9">能减排的重要依靠力量。以改变当前家庭生活</tspan><tspan x="299.8" dy="13.9">中与节能减排不相适应的观念、行为方式为重</tspan><tspan x="299.8" dy="13.9">点，在广大家庭成员中大力倡导节能环保新理</tspan><tspan x="299.8" dy="13.9">念，形成健康、文明、节约、环保的生活方式</tspan><tspan x="299.8" dy="13.9">，并通过家庭影响社区，通过社区带动全社会</tspan><tspan x="299.8" dy="13.9">参与节能减排工作。大力提倡重拎布袋子、菜</tspan><tspan x="299.8" dy="13.9">篮子，自觉选购节能家电、节水器具和高效照</tspan><tspan x="299.8" dy="13.9">明产品，减少待机消耗，拒绝过包装，使用无</tspan><tspan x="299.8" dy="13.9">磷洗衣粉等。</tspan></text></g>
<g id="c3c"><rect class="n" x="294" y="2073" width="227" height="95" rx="4"/><text x="299.8" y="2089.7"><tspan>(二)社区带头节能，成为节能表率。社区要以</tspan><tspan x="299.8" dy="13.9">节电、节水为重点，采取切实可行的管理措施</tspan><tspan x="299.8" dy="13.9">，降低办公室用能总量，尽量采用自然光照明</tspan><tspan x="299.8" dy="13.9">。推进无纸化办公，倡导节约资源的办公习惯</tspan><tspan x="299.8" dy="13.9">。加强对用能设施管理，降低办公室设备的待</tspan><tspan x="299.8" dy="13.9">机能耗，改变用能设备的运行方式。</tspan></text></g>
<g id="c3c1"><rect class="n" x="47" y="2083.5" width="227" height="67.2" rx="4"/><text x="52.8" y="2100.2"><tspan>(三)营造节能氛围，倡导绿色生活。</tspan></text></g>

<g id="e1"><rect class="n" x="659" y="2252" width="228" height="39.4" rx="4"/><text x="664.8" y="2268.7"><tspan>一、明确工作责任，做好环保目标责任制的落</tspan><tspan x="664.8" dy="13.9">实。</tspan></text></g>
<g id="e1a"><rect class="n" x="412" y="2191" width="227" height="39.4" rx="4"/><text x="417.8" y="2207.7"><tspan>1、强化组织领导，落实环境保护党政同责、</tspan><tspan x="417.8" dy="13.9">一岗双责制度。</tspan></text></g>
<g id="e1b"><rect class="n" x="412" y="2253" width="227" height="39.4" rx="4"/><text x="417.8" y="2269.7"><tspan>2、层层签订环境保护目标责任书，落实全年</tspan><tspan x="417.8" dy="13.9">的各项工作目标任务。</tspan></text></g>
<g id="e1c"><rect class="n" x="412" y="2315" width="227" height="39.4" rx="4"/><text x="417.8" y="2331.7"><tspan>3、明确责任分工，密切配合，确保环境保护</tspan><tspan x="417.8" dy="13.9">目标责任制圆满完成。</tspan></text></g>
<g id="e2"><rect class="n" x="659" y="2442" width="228" height="39.4" rx="4"/><text x="664.8" y="2458.7"><tspan>二、加强总量控制，确保主要污染物排放只减</tspan><tspan x="664.8" dy="13.9">不增。</tspan></text></g>
<g id="e2a"><rect class="n" x="412" y="2377" width="227" height="39.4" rx="4"/><text x="417.8" y="2393.7"><tspan>1、依法实施强制淘汰，取缔不符合国家产业</tspan><tspan x="417.8" dy="13.9">政策的企业。</tspan></text></g>
<g id="e2b"><rect class="n" x="412" y="2438" width="227" height="39.4" rx="4"/><text x="417.8" y="2454.7"><tspan>2、推进工业锅炉"煤改气"项目，争取年内完</tspan><tspan x="417.8" dy="13.9">成2家企业"煤改气"改造，减少污染物排放。</tspan></text></g>
<g id="e2c"><rect class="n" x="412" y="2500" width="227" height="53.3" rx="4"/><text x="417.8" y="2516.7"><tspan>3、完成污水处理厂厂区部分煞尾工程以及主</tspan><tspan x="417.8" dy="13.9">干管和连接主管网的支网建设，力争8月份投</tspan><tspan x="417.8" dy="13.9">入运营，确保市布减排任务完成。</tspan></text></g>
<g id="e3"><rect class="n" x="659" y="2811" width="228" height="25.5" rx="4"/><text x="664.8" y="2827.7">三、协调多方力量，切实促进环境质量改善。</text></g>
<g id="e3a"><rect class="n" x="412" y="2576" width="227" height="67.2" rx="4"/><text x="417.8" y="2592.7"><tspan>1、加大环保知识宣传教育。结合"6.5世界环</tspan><tspan x="417.8" dy="13.9">境日"、"五城同创"等活动，加强环境保护特</tspan><tspan x="417.8" dy="13.9">别是新《环保法》的宣传教育，提高人民群众</tspan><tspan x="417.8" dy="13.9">环保意识。</tspan></text></g>
<g id="e3b"><rect class="n" x="412" y="2666" width="227" height="67.2" rx="4"/><text x="417.8" y="2682.7"><tspan>2、积极开展生态乡镇和生态村的创建工作，</tspan><tspan x="417.8" dy="13.9">力争完成省级生态乡镇和10个省级生态村的</tspan><tspan x="417.8" dy="13.9">的创建工作，通过树立典型带动生态环境的改</tspan><tspan x="417.8" dy="13.9">善。</tspan></text></g>
<g id="e3c"><rect class="n" x="412" y="2755" width="227" height="67.2" rx="4"/><text x="417.8" y="2771.7"><tspan>3、推进秸秆焚烧和综合利用工作。采取疏堵</tspan><tspan x="417.8" dy="13.9">结合的方式，层层落实各级工作责任，确保禁</tspan><tspan x="417.8" dy="13.9">烧期间"不着一把火、不冒一处烟"，秸秆综合</tspan><tspan x="417.8" dy="13.9">利用率显著提高。</tspan></text></g>
<g id="e3d"><rect class="n" x="412" y="2845" width="227" height="67.2" rx="4"/><text x="417.8" y="2861.7"><tspan>4、大力发展生态农业，促进养殖业改造升级</tspan><tspan x="417.8" dy="13.9">。推广测土配方施肥，科学减施化肥农药，有</tspan><tspan x="417.8" dy="13.9">效控制面源污染。推广生态环保型养殖业，防</tspan><tspan x="417.8" dy="13.9">治养殖污染。</tspan></text></g>
<g id="e3e"><rect class="n" x="412" y="2935" width="227" height="39.4" rx="4"/><text x="417.8" y="2951.7"><tspan>5、加强水体水质保护工作。开展汉江沿线环</tspan><tspan x="417.8" dy="13.9">境整治，保护汉江饮用水源地环境。</tspan></text></g>
<g id="e3f"><rect class="n" x="412" y="2997" width="227" height="81.1" rx="4"/><text x="417.8" y="3013.7"><tspan>6、开展城乡生活垃圾统筹治理。配套资金80</tspan><tspan x="417.8" dy="13.9">万元，对垃圾保洁队伍以及垃圾桶、垃圾清运</tspan><tspan x="417.8" dy="13.9">车等设备予以补贴，力争辖区内32个行政村</tspan><tspan x="417.8" dy="13.9">，263个小组实现农村垃圾收集、集中处理全</tspan><tspan x="417.8" dy="13.9">覆盖。</tspan></text></g>
<g id="e4"><rect class="n" x="681" y="3218" width="206" height="25.5" rx="4"/><text x="686.8" y="3234.7">四、严格依法行政，处理环境违法行为。</text></g>
<g id="e4a"><rect class="n" x="433" y="3100" width="228" height="81.1" rx="4"/><text x="438.8" y="3116.7"><tspan>1、严把项目引进环评关。严格执行国家产业</tspan><tspan x="438.8" dy="13.9">政策，始终将环境影响评价作为项目引进的先</tspan><tspan x="438.8" dy="13.9">决条件，对所有新引进项目，必须先过"环保</tspan><tspan x="438.8" dy="13.9">审查门槛"，对不符合环保要求的项目坚决予</tspan><tspan x="438.8" dy="13.9">以否决，从源头上杜绝新污染源产生。</tspan></text></g>
<g id="e4b"><rect class="n" x="433" y="3204" width="228" height="67.2" rx="4"/><text x="438.8" y="3220.7"><tspan>2、认真执行环境影响评价和环境保护"三同</tspan><tspan x="438.8" dy="13.9">时"制度。对限期内环保手续整改不到位的企</tspan><tspan x="438.8" dy="13.9">业，配合市环保局按相关法律、法规予以处罚</tspan><tspan x="438.8" dy="13.9">。</tspan></text></g>
<g id="e4c"><rect class="n" x="433" y="3294" width="228" height="53.3" rx="4"/><text x="438.8" y="3310.7"><tspan>3、认真解决好人民群众关心的环保问题。对</tspan><tspan x="438.8" dy="13.9">群众反映强烈的环保问题，进行及时查处，及</tspan><tspan x="438.8" dy="13.9">时整改。</tspan></text></g>
</g>
</svg>
